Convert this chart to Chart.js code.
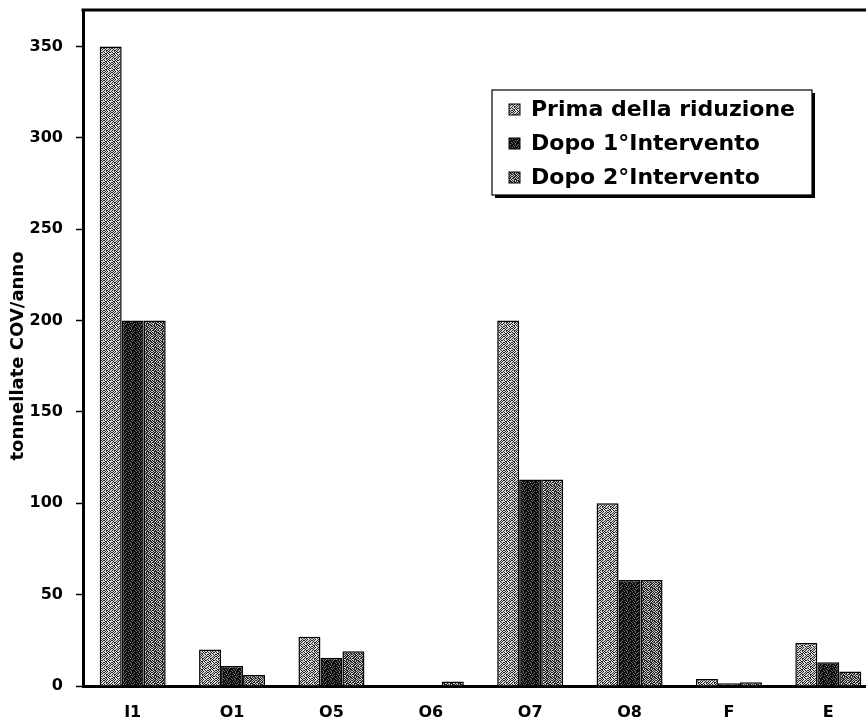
<!DOCTYPE html>
<html>
<head>
<meta charset="utf-8">
<script src="https://cdn.jsdelivr.net/npm/chart.js@4/dist/chart.umd.min.js"></script>
<style>
html,body{margin:0;padding:0;background:#fff;overflow:hidden;width:866px;height:721px;}
#wrap{position:absolute;left:0;top:0;width:880px;height:721px;}
</style>
</head>
<body>
<div id="wrap"><canvas id="c" width="880" height="721"></canvas></div>
<script>
const categories = ['I1','O1','O5','O6','O7','O8','F','E'];
const seriesNames = ['Prima della riduzione','Dopo 1°Intervento','Dopo 2°Intervento'];
const yTitle = 'tonnellate COV/anno';
const prima = [350, 20, 27, 0, 200, 100, 3.8, 23.5];
const dopo1 = [200, 11, 15.5, 0, 113, 58, 1.5, 13];
const dopo2 = [200, 6, 19, 2.4, 113, 58, 2, 8];
const yTicks = [0, 50, 100, 150, 200, 250, 300, 350];

function makePattern(bg, fg, rows){
  const c = document.createElement('canvas');
  c.width = rows[0].length; c.height = rows.length;
  const x = c.getContext('2d');
  x.fillStyle = bg; x.fillRect(0,0,c.width,c.height);
  x.fillStyle = fg;
  rows.forEach((r,j)=>{ [...r].forEach((ch,i)=>{ if(ch==='1') x.fillRect(i,j,1,1); }); });
  return x.createPattern(c,'repeat');
}
const pat1 = makePattern('#d8d8d8','#262626',[
  '10100101','01001010','10110100','00101001','10010110','01101000','10100101','01010010']);
const pat2 = makePattern('#6e6e6e','#0c0c0c',[
  '11101101','10111011','11010111','01111101','11101011','10110111','11011110','01101111']);
const pat3 = makePattern('#c6c6c6','#222222',[
  '10110101','01101010','11010110','00111001','10101110','01101011','10110101','01011010']);
const fills = [pat1, pat2, pat3];

const frame = {
  id:'frame',
  afterDraw(chart){
    const ctx = chart.ctx, a = chart.chartArea;
    ctx.save();
    ctx.strokeStyle = '#000'; ctx.lineWidth = 3;
    ctx.beginPath(); ctx.moveTo(a.left-1.5, a.top); ctx.lineTo(a.right, a.top); ctx.stroke();
    // y title
    ctx.save();
    ctx.translate(18, 356);
    ctx.rotate(-Math.PI/2);
    ctx.font = 'bold 18px "DejaVu Sans"';
    ctx.fillStyle = '#000';
    ctx.textAlign = 'center'; ctx.textBaseline = 'middle';
    ctx.fillText(yTitle, 0, 0);
    ctx.restore();
    // legend
    const bx = 492, by = 90, bw = 320, bh = 105;
    ctx.fillStyle = '#000';
    ctx.fillRect(bx+3, by+3, bw, bh);
    ctx.fillStyle = '#fff';
    ctx.fillRect(bx, by, bw, bh);
    ctx.lineWidth = 1.2; ctx.strokeStyle = '#000';
    ctx.strokeRect(bx, by, bw, bh);
    ctx.font = 'bold 22px "DejaVu Sans"';
    ctx.textBaseline = 'middle';
    ctx.textAlign = 'left';
    const rowsY = [109, 143, 177];
    chart.data.datasets.forEach((ds,i)=>{
      const y = rowsY[i];
      ctx.fillStyle = fills[i];
      ctx.fillRect(509, y-5, 11, 11);
      ctx.lineWidth = 1; ctx.strokeStyle = '#000';
      ctx.strokeRect(509, y-5, 11, 11);
      ctx.fillStyle = '#000';
      ctx.fillText(ds.label, 531, y+1);
    });
    ctx.restore();
  }
};

new Chart(document.getElementById('c'), {
  type:'bar',
  data:{
    labels: categories,
    datasets:[
      {label: seriesNames[0], data: prima, backgroundColor: fills[0], borderColor:'#000', borderWidth:1.5},
      {label: seriesNames[1], data: dopo1, backgroundColor: fills[1], borderColor:'#000', borderWidth:1.5},
      {label: seriesNames[2], data: dopo2, backgroundColor: fills[2], borderColor:'#000', borderWidth:1.5}
    ]
  },
  options:{
    responsive:false,
    animation:false,
    devicePixelRatio:1,
    layout:{padding:{top:0,right:2,left:0,bottom:0}},
    datasets:{bar:{categoryPercentage:0.664, barPercentage:1}},
    plugins:{legend:{display:false}, tooltip:{enabled:false}},
    scales:{
      x:{
        grid:{display:true, drawOnChartArea:false, drawTicks:false},
        border:{display:true, color:'#000', width:3},
        ticks:{color:'#000', font:{family:'DejaVu Sans', size:16, weight:'bold'}, padding:17},
        afterFit(s){ s.height = 35; s.paddingLeft = 0; s.paddingRight = 0; }
      },
      y:{
        min:0, max:370,
        afterBuildTicks(s){ s.ticks = yTicks.map(v=>({value:v})); },
        grid:{display:true, drawOnChartArea:false, drawTicks:true, tickLength:7, color:'#000', tickWidth:1.5},
        border:{display:true, color:'#000', width:3},
        ticks:{color:'#000', font:{family:'DejaVu Sans', size:16, weight:'bold'}, padding:13},
        afterFit(s){ s.width = 83; s.paddingTop = 10; s.paddingBottom = 0; }
      }
    }
  },
  plugins:[frame]
});
</script>
</body>
</html>
